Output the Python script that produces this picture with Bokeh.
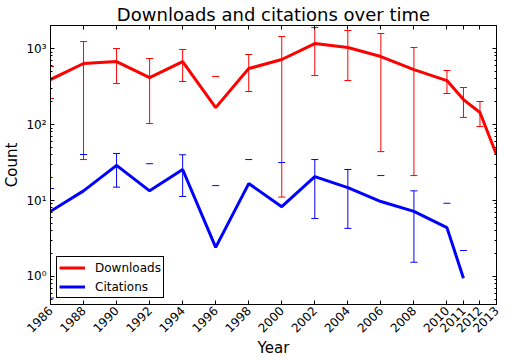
import math
from bokeh.plotting import figure
from bokeh.models import (Range1d, FixedTicker, CustomJSTickFormatter, LinearAxis, LogAxis,
                          ColumnDataSource, Legend, LegendItem)
from bokeh.embed import file_html
from bokeh.resources import INLINE

NaN = float("nan")

# ---- data ----
dl_years = [1986, 1988, 1990, 1992, 1994, 1996, 1998, 2000, 2002, 2004, 2006, 2008,
            2010, 2011, 2012, 2013]
downloads = [391, 635, 674, 415, 674, 167, 545, 717, 1163, 1031, 785, 529, 379, 213, 144, 40]
dl_upper = [580, 1235, 1000, 739, 970, 428, 834, 1438, 1890, 1725, 1575, 1031, 514, 307, 201, NaN]
dl_lower = [220, 34.6, 346, 103, 368, NaN, 272, 11.1, 441, 379, 44, 21.3, 256, 124, 94, NaN]

cit_years = [1986, 1988, 1990, 1992, 1994, 1996, 1998, 2000, 2002, 2004, 2006, 2008, 2010, 2011]
citations = [7.2, 13.4, 29, 13.4, 25.6, 2.42, 16.7, 8.3, 20.6, 14.8, 9.7, 7.2, 4.4, 0.95]
cit_upper = [14.4, 40.3, 41.6, 30.5, 40, 15.7, 34.6, 31.6, 34.6, 25.6, 21.3, 13.4, 9.2, 2.2]
cit_lower = [0.52, NaN, 15, NaN, 11.3, NaN, NaN, NaN, 5.8, 4.3, NaN, 1.54, NaN, NaN]

x_ticks = [1986, 1988, 1990, 1992, 1994, 1996, 1998, 2000, 2002, 2004, 2006, 2008,
           2010, 2011, 2012, 2013]
y_major = [1, 10, 100, 1000]
y_minor = [m * 10 ** k for k in range(-1, 4) for m in range(2, 10)]
y_bottom, y_top = 0.428, 2010

FONT = "DejaVu Sans"
RED = "#ff0000"
BLUE = "#0000ff"

p = figure(x_range=Range1d(1986, 2013), y_range=Range1d(y_bottom, y_top), y_axis_type="log",
           frame_width=446, frame_height=279, min_border_left=38, min_border_right=13,
           min_border_top=17, min_border_bottom=48,
           output_backend="svg", toolbar_location=None,
           title="Downloads and citations over time")
p.background_fill_color = "white"
p.border_fill_color = "white"
p.outline_line_color = "black"
p.outline_line_width = 1
p.outline_line_alpha = 1
p.xgrid.visible = False
p.ygrid.visible = False

p.title.align = "center"
p.title.text_font = FONT
p.title.text_font_size = "18px"
p.title.text_font_style = "normal"
p.title.text_color = "black"
p.title.standoff = 2

xt = FixedTicker(ticks=x_ticks)
yt = FixedTicker(ticks=y_major, minor_ticks=y_minor)
ylab = CustomJSTickFormatter(code="""
const sup = {"0":"\u2070","1":"\u00b9","2":"\u00b2","3":"\u00b3","-":"\u207b"};
const e = Math.round(Math.log10(tick));
return "10" + String(e).split("").map(c => sup[c]).join("");
""")
empty = CustomJSTickFormatter(code="return '';")

for ax in (p.xaxis[0], p.yaxis[0]):
    ax.axis_line_color = "black"
    ax.major_tick_line_color = "black"
    ax.minor_tick_line_color = "black"
    ax.major_tick_in = 4
    ax.major_tick_out = 0
    ax.minor_tick_in = 2
    ax.minor_tick_out = 0
    ax.major_label_text_font = FONT
    ax.major_label_text_font_size = "12px"
    ax.major_label_text_color = "black"
    ax.axis_label_text_font = FONT
    ax.axis_label_text_font_size = "15px"
    ax.axis_label_text_font_style = "normal"
    ax.axis_label_text_color = "black"

p.xaxis.ticker = xt
p.xaxis.major_label_orientation = math.pi / 4
p.xaxis.major_label_text_align = "center"
p.xaxis.major_label_text_baseline = "middle"
p.xaxis.axis_label = "Year"
p.xaxis.axis_label_standoff = 0
p.xaxis.major_label_standoff = 4
p.yaxis.ticker = yt
p.yaxis.formatter = ylab
p.yaxis.axis_label = "Count"
p.yaxis.axis_label_standoff = 2
p.yaxis.major_label_standoff = 4

top = LinearAxis(ticker=xt, formatter=empty, major_tick_in=4, major_tick_out=0,
                 minor_tick_line_color=None, major_label_standoff=0,
                 major_label_text_font_size="1px", axis_line_color="black")
right = LogAxis(ticker=yt, formatter=empty, major_tick_in=4, major_tick_out=0,
                minor_tick_in=2, minor_tick_out=0, major_label_standoff=0,
                major_label_text_font_size="1px", axis_line_color="black")
p.add_layout(top, "above")
p.add_layout(right, "right")

# ---- error bars ----
dl_src = ColumnDataSource(dict(x=dl_years, y=downloads, up=dl_upper, lo=dl_lower))
cit_src = ColumnDataSource(dict(x=cit_years, y=citations, up=cit_upper, lo=cit_lower))

for src, col in ((dl_src, RED), (cit_src, BLUE)):
    p.segment(x0="x", y0="lo", x1="x", y1="up", source=src, line_color=col, line_width=1)
    p.scatter(x="x", y="up", source=src, marker="dash", size=7, line_color=col, line_width=1)
    p.scatter(x="x", y="lo", source=src, marker="dash", size=7, line_color=col, line_width=1)

dl_line = p.line(x="x", y="y", source=dl_src, line_color=RED, line_width=3)
cit_line = p.line(x="x", y="y", source=cit_src, line_color=BLUE, line_width=3)

legend = Legend(items=[LegendItem(label="Downloads", renderers=[dl_line]),
                       LegendItem(label="Citations", renderers=[cit_line])],
                location="bottom_left")
legend.margin = 6
legend.padding = 2
legend.spacing = 2
legend.label_height = 17
legend.glyph_height = 17
legend.glyph_width = 26
legend.label_standoff = 10
legend.label_text_font = FONT
legend.label_text_font_size = "12px"
legend.label_text_color = "black"
legend.border_line_color = "black"
legend.border_line_width = 1
legend.border_line_alpha = 1
legend.background_fill_color = "white"
legend.background_fill_alpha = 1
p.add_layout(legend)

open("out.html", "w").write(file_html(p, INLINE))
